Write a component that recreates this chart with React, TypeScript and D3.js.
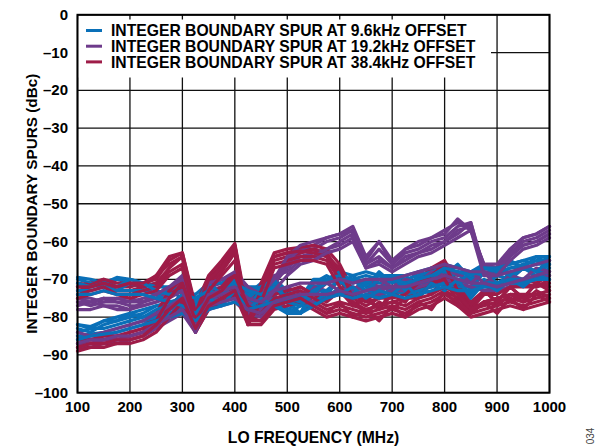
import React from "react";
import * as d3 from "d3";

const FREQ_MHZ = [100,125,150,175,200,225,250,275,300,325,350,375,400,425,450,475,500,525,550,575,600,625,650,675,700,725,750,775,800,825,850,875,900,925,950,975,1000];

const X_TICKS = [100,200,300,400,500,600,700,800,900,1000];
const Y_TICKS = [0,-10,-20,-30,-40,-50,-60,-70,-80,-90,-100];

const SERIES_NAMES = [
  "INTEGER BOUNDARY SPUR AT 9.6kHz OFFSET",
  "INTEGER BOUNDARY SPUR AT 19.2kHz OFFSET",
  "INTEGER BOUNDARY SPUR AT 38.4kHz OFFSET",
];
const SERIES_COLORS = ["#0a70b8", "#6e3b8b", "#9e1c48"];

// 9.6 kHz offset traces
const SPUR_9K6 = [
  [-70,-71,-70.5,-70,-71,-72,-71,-73,-72,-75,-73,-70,-70,-74,-71,-73,-74,-76,-71,-69,-71,-69,-72,-68,-71,-69,-72,-67,-69,-66,-70,-66,-69,-65,-67,-64,-66],
  [-72,-71,-72,-73,-71,-72,-74,-73,-75,-77,-72,-74,-71,-76,-73,-74,-78,-76,-72,-74,-70,-73,-70,-74,-70,-72,-73,-69,-71,-68,-73,-68,-71,-69,-66,-70,-67],
  [-69.5,-70,-71,-69.5,-70,-71,-72,-72,-73,-74,-71,-71,-69,-72,-72,-70,-73,-75,-70,-70,-68,-69,-68,-69,-69,-69,-68,-67,-66,-67,-68,-66,-67,-66,-65,-64,-64],
  [-73,-73,-72,-73,-73,-73,-74,-76,-76,-78,-74,-76,-72,-77,-74,-76,-76,-79,-73,-75,-72,-74,-71,-75,-72,-73,-74,-70,-72,-70,-74,-70,-72,-68,-71,-69,-68],
  [-82,-82.5,-81,-80,-79,-78,-77,-76,-75,-77,-74,-73,-72,-74,-73,-72,-76,-77,-72,-71,-70,-71,-70,-71,-70,-72,-70,-69,-68,-69,-70,-68,-69,-67,-67,-66,-66],
  [-84,-83,-83,-82,-81,-80,-79,-78,-77,-78,-74,-76,-72,-77,-73,-75,-76,-79,-73,-73,-70,-74,-70,-73,-70,-74,-70,-72,-68,-71,-70,-72,-69,-70,-67,-69,-66],
  [-83,-84,-82,-81,-80,-79,-77,-77,-76,-76,-74,-72,-71,-73,-72,-71,-74,-75,-71,-70,-69,-70,-69,-70,-69,-70,-69,-68,-67,-68,-68,-67,-67,-66,-65,-66,-64],
  [-85,-84.5,-84,-83,-82,-81,-80,-79,-78,-80,-77,-76,-75,-77,-76,-75,-78,-79,-76,-74,-73,-74,-73,-74,-73,-74,-73,-72,-71,-72,-72,-71,-71,-70,-70,-69,-69],
  [-71,-72,-71,-72,-70,-71,-73,-74,-73,-76,-71,-74,-70,-75,-72,-70,-76,-77,-74,-70,-71,-70,-73,-70,-69,-73,-69,-70,-67,-71,-68,-69,-67,-69,-66,-68,-65],
  [-82,-83,-81,-81,-79,-80,-78,-77,-74,-75,-73,-74,-71,-73,-74,-72,-75,-76,-73,-71,-70,-70,-71,-69,-70,-71,-70,-69,-67,-68,-69,-67,-68,-67,-66,-65,-65],
  [-74,-74,-73,-74,-74,-74,-75,-76,-77,-79,-75,-77,-73,-78,-75,-77,-79,-77,-77,-73,-74,-72,-75,-73,-74,-71,-75,-71,-73,-70,-75,-71,-73,-70,-72,-69,-70],
  [-86,-85,-84.5,-84,-83,-82,-81,-80,-79,-81,-78,-77,-76,-78,-77,-76,-79,-79,-77,-75,-74,-75,-74,-75,-74,-75,-74,-73,-72,-73,-73,-72,-72,-71,-71,-70,-70],
];

// 19.2 kHz offset traces
const SPUR_19K2 = [
  [-75,-75,-76,-75,-76,-76,-75,-73,-70,-80,-72,-71,-70,-73,-75,-70,-66,-63,-62,-60,-59,-57,-66,-62,-66,-63,-62,-60,-59,-56,-55,-67,-67,-63,-60,-59,-57],
  [-76,-77,-76,-76,-77,-77,-76,-74,-71,-83,-73,-72,-71,-74,-76,-71,-67,-64,-63,-62,-61,-59,-67,-65,-67,-64,-63,-62,-60,-58,-55,-68,-68,-64,-61,-60,-58],
  [-77,-76,-77,-77,-78,-76,-75,-74,-72,-84,-74,-73,-72,-75,-77,-72,-65,-62,-61,-59,-58,-57,-65,-60,-66,-62,-61,-59,-58,-54,-57,-66,-67,-62,-59,-58,-56],
  [-76,-76,-75,-76,-76,-75,-74,-72,-69,-81,-71,-70,-69,-72,-74,-69,-68,-65,-64,-62,-60,-58,-66,-64,-67,-65,-63,-61,-60,-57,-56,-67,-68,-63,-61,-60,-58],
  [-85,-86,-85,-84,-83,-82,-80,-78,-76,-82,-75,-74,-73,-76,-77,-74,-72,-74,-72,-73,-70,-73,-70,-72,-70,-71,-68,-69,-66,-69,-68,-71,-69,-70,-67,-68,-65],
  [-87,-87,-86,-86,-85,-84,-82,-80,-78,-84,-77,-76,-75,-78,-79,-76,-75,-74,-75,-74,-73,-74,-73,-73,-72,-72,-71,-70,-69,-70,-71,-72,-72,-71,-70,-69,-68],
  [-86,-85,-85,-85,-84,-83,-81,-79,-77,-83,-76,-75,-74,-77,-78,-75,-75,-72,-74,-71,-73,-72,-73,-70,-72,-70,-71,-68,-69,-68,-71,-68,-72,-69,-70,-67,-68],
  [-88,-87,-87,-86,-86,-85,-83,-81,-79,-84,-78,-77,-76,-79,-80,-77,-76,-75,-76,-75,-74,-75,-74,-74,-73,-73,-72,-71,-70,-71,-72,-73,-73,-72,-71,-70,-69],
  [-75,-76,-75,-75,-75,-76,-74,-72,-70,-82,-71,-70,-68,-72,-74,-70,-64,-61,-60,-59,-58,-56,-64,-60,-65,-62,-60,-59,-57,-55,-57,-66,-66,-62,-59,-58,-56],
  [-78,-78,-77,-78,-78,-77,-76,-75,-73,-84,-75,-74,-73,-76,-78,-73,-69,-66,-65,-63,-62,-60,-67,-66,-68,-66,-64,-63,-61,-59,-57,-69,-69,-65,-62,-61,-59],
  [-84,-85,-84,-83,-82,-81,-79,-77,-75,-81,-74,-73,-72,-75,-76,-73,-72,-71,-71,-71,-70,-71,-70,-70,-70,-69,-68,-67,-66,-67,-68,-68,-69,-68,-67,-66,-65],
  [-87,-86,-86,-85,-85,-84,-82,-80,-78,-83,-77,-76,-75,-78,-79,-76,-75,-74,-74,-74,-73,-74,-73,-72,-72,-72,-71,-70,-69,-70,-71,-71,-72,-71,-70,-69,-68],
];

// 38.4 kHz offset traces
const SPUR_38K4 = [
  [-72,-71,-70,-72,-72,-71,-70,-65,-63,-78,-70,-66,-61,-80,-72,-64,-63,-62,-62,-63,-68,-74,-76,-75,-74,-73,-70,-68,-66,-72,-77,-74,-73,-72,-71,-72,-70],
  [-73,-72,-71,-73,-73,-72,-71,-67,-64,-80,-71,-67,-62,-82,-74,-65,-64,-63,-62,-64,-69,-77,-74,-78,-73,-76,-70,-72,-67,-74,-78,-73,-76,-72,-75,-71,-73],
  [-71,-71.5,-70,-71,-71,-72,-69,-64,-63,-77,-69,-65,-60.5,-79,-71,-63,-62,-61.5,-61,-62,-66,-73,-75,-74,-73,-72,-70,-67,-65,-71,-76,-73,-72,-71,-70,-71,-69],
  [-74,-73,-72,-74,-74,-73,-72,-68,-66,-79,-72,-68,-63,-81,-75,-66,-65,-64,-64,-65,-70,-76,-78,-77,-76,-75,-73,-71,-68,-74,-79,-76,-75,-74,-74,-74,-73],
  [-87,-87,-86,-86,-85,-84,-80,-74,-72,-82,-76,-74,-70,-78,-80,-76,-75,-74,-76,-78,-77,-78,-79,-78,-77,-78,-76,-75,-73,-75,-78,-77,-76,-75,-76,-75,-74],
  [-88,-88,-87,-87,-86,-85,-83,-77,-74,-83,-77,-75,-72,-80,-81,-77,-76,-75,-77,-79,-76,-80,-78,-81,-77,-80,-76,-78,-73,-77,-79,-76,-79,-75,-78,-74,-76],
  [-86,-86,-85,-85,-84,-83,-79,-73,-70,-80,-74,-72,-68,-76,-78,-74,-73,-72,-74,-76,-73,-77,-75,-78,-74,-76,-72,-74,-69,-74,-77,-73,-76,-72,-75,-71,-72],
  [-89,-88,-88,-87,-87,-86,-84,-80,-76,-84,-78,-76,-74,-82,-82,-78,-77,-76,-78,-80,-79,-80,-81,-80,-79,-80,-78,-77,-75,-77,-80,-79,-78,-77,-78,-77,-76],
  [-72,-72,-71,-72,-71,-71,-69,-66,-64,-79,-70,-67,-61,-81,-73,-64,-63,-62.5,-63,-64,-67,-75,-77,-75,-75,-74,-71,-69,-66,-73,-78,-74,-74,-72,-72,-72,-71],
  [-75,-74,-73,-74,-75,-74,-73,-69,-67,-80,-73,-69,-65,-82,-76,-67,-66,-65,-65,-66,-72,-76,-79,-76,-78,-75,-75,-71,-70,-76,-79,-76,-77,-74,-76,-73,-75],
  [-87,-86,-86,-85,-85,-84,-81,-75,-71,-81,-75,-73,-69,-77,-79,-75,-74,-73,-75,-77,-76,-77,-78,-77,-76,-77,-75,-74,-72,-74,-78,-76,-75,-74,-75,-74,-73],
  [-88,-87,-87,-86,-86,-85,-82,-78,-75,-83,-77,-75,-73,-81,-81,-77,-76,-75,-77,-79,-78,-79,-80,-79,-78,-79,-77,-76,-74,-76,-79,-78,-77,-76,-77,-76,-75],
];

const ALL_SERIES = [SPUR_9K6, SPUR_19K2, SPUR_38K4];

export default function App() {
  const W = 607, H = 448;
  const L = 77.5, R = 549.5, T = 14.8, B = 392.7;
  const x = d3.scaleLinear().domain([100, 1000]).range([L, R]);
  const y = d3.scaleLinear().domain([-100, 0]).range([B, T]);
  const line = d3.line<number>().x((_, i) => x(FREQ_MHZ[i])).y((d) => y(d));
  const font = "'Liberation Sans', Arial, sans-serif";

  const paths: React.ReactNode[] = [];
  const nLines = SPUR_9K6.length;
  for (let i = 0; i < nLines; i++) {
    ALL_SERIES.forEach((s, si) => {
      paths.push(
        <path key={`${si}-${i}`} d={line(s[i]) || ""} fill="none" stroke={SERIES_COLORS[si]} strokeWidth={3.2} strokeLinejoin="round" strokeLinecap="round" />
      );
    });
  }

  return (
    <svg width={W} height={H} style={{ position: "absolute", left: 0, top: 0, background: "#fff" }} fontFamily={font}>
      <rect x={0} y={0} width={W} height={H} fill="#fff" />
      {X_TICKS.map((t) => (
        <line key={`gx${t}`} x1={x(t)} x2={x(t)} y1={T} y2={B} stroke="#111" strokeWidth={1.3} />
      ))}
      {Y_TICKS.map((t) => (
        <line key={`gy${t}`} x1={L} x2={R} y1={y(t)} y2={y(t)} stroke="#111" strokeWidth={1.3} />
      ))}
      <rect x={L} y={19.5} width={491 - L} height={58} fill="#fff" />
      {paths}
      <rect x={L} y={T} width={R - L} height={B - T} fill="none" stroke="#000" strokeWidth={2} />
      {SERIES_NAMES.map((n, i) => (
        <g key={n}>
          <line x1={86} x2={102} y1={30.5 + i * 15.7} y2={30.5 + i * 15.7} stroke={SERIES_COLORS[i]} strokeWidth={3} />
          <text x={111} y={30.5 + i * 15.7 + 5.7} fontSize={15.7} fontWeight="bold" fill="#000">{n}</text>
        </g>
      ))}
      {Y_TICKS.map((t) => (
        <text key={`ly${t}`} x={68} y={y(t) + 5} fontSize={15} fontWeight="bold" textAnchor="end" fill="#000">
          {t === 0 ? "0" : "\u2013" + Math.abs(t)}
        </text>
      ))}
      {X_TICKS.map((t) => (
        <text key={`lx${t}`} x={x(t)} y={412} fontSize={15} fontWeight="bold" textAnchor="middle" fill="#000">{t}</text>
      ))}
      <text x={(L + R) / 2} y={443} fontSize={15.7} fontWeight="bold" textAnchor="middle" fill="#000">LO FREQUENCY (MHz)</text>
      <text transform={`translate(37,${(T + B) / 2}) rotate(-90)`} fontSize={15.3} fontWeight="bold" textAnchor="middle" fill="#000">INTEGER BOUNDARY SPURS (dBc)</text>
      <text transform={`translate(594,436) rotate(-90)`} fontSize={10} textAnchor="middle" fill="#444">034</text>
    </svg>
  );
}
